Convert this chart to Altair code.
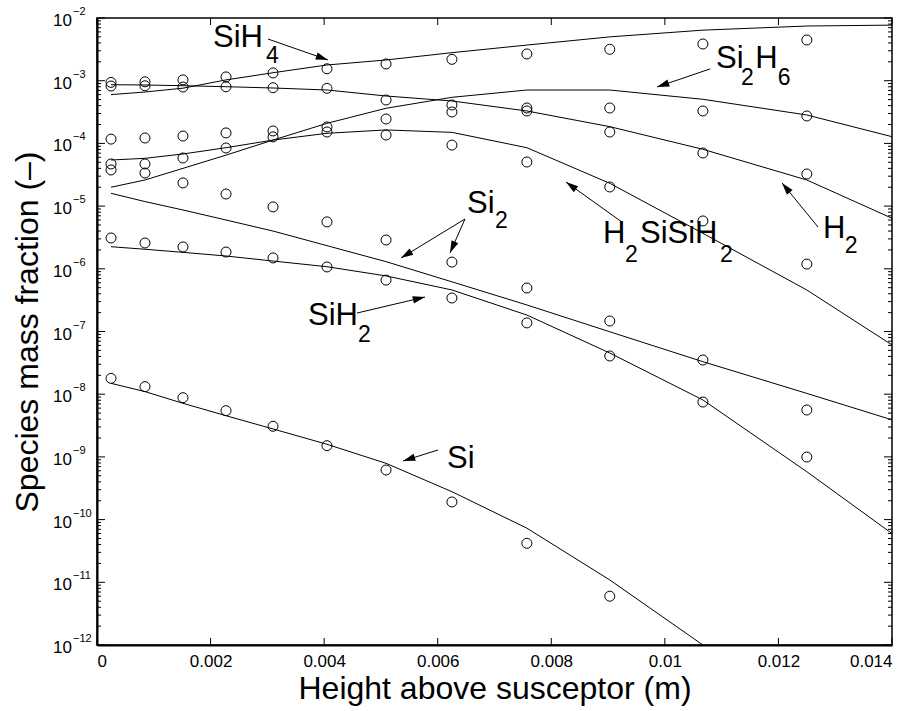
import math
import altair as alt
import pandas as pd

# ---------------- data ----------------
x_points = [0.000247, 0.000845, 0.001514, 0.002272, 0.0031, 0.00405,
            0.00509, 0.00625, 0.00757, 0.00903, 0.01067, 0.0125]
x_line = x_points + [0.014]

species = ["SiH4", "Si2H6", "H2", "H2SiSiH2", "Si2", "SiH2", "Si"]

pts_SiH4 = [9.4e-4, 9.6e-4, 1.03e-3, 1.15e-3, 1.33e-3, 1.55e-3, 1.85e-3, 2.19e-3, 2.67e-3, 3.17e-3, 3.85e-3, 4.46e-3]
pts_Si2H6 = [4.7e-5, 4.7e-5, 5.85e-5, 8.45e-5, 1.27e-4, 1.83e-4, 2.45e-4, 3.17e-4, 3.67e-4, 3.67e-4, 3.29e-4, 2.74e-4]
pts_H2 = [8.23e-4, 8.3e-4, 7.93e-4, 8.0e-4, 7.73e-4, 7.56e-4, 4.92e-4, 4.1e-4, 3.29e-4, 1.52e-4, 7.03e-5, 3.25e-5]
pts_H2SiSiH2 = [1.17e-4, 1.22e-4, 1.31e-4, 1.47e-4, 1.58e-4, 1.52e-4, 1.36e-4, 9.4e-5, 5.05e-5, 2.02e-5, 5.8e-6, 1.19e-6]
pts_Si2 = [3.77e-5, 3.37e-5, 2.34e-5, 1.56e-5, 9.7e-6, 5.6e-6, 2.88e-6, 1.28e-6, 4.94e-7, 1.47e-7, 3.51e-8, 5.6e-9]
pts_SiH2 = [3.1e-6, 2.58e-6, 2.23e-6, 1.85e-6, 1.49e-6, 1.07e-6, 6.6e-7, 3.42e-7, 1.37e-7, 4.07e-8, 7.5e-9, 9.95e-10]
pts_Si = [1.79e-8, 1.32e-8, 8.8e-9, 5.46e-9, 3.08e-9, 1.51e-9, 6.18e-10, 1.91e-10, 4.19e-11, 6.0e-12]

line_SiH4 = [6.0e-4, 6.6e-4, 7.6e-4, 1.03e-3, 1.34e-3, 1.78e-3, 2.14e-3, 2.8e-3, 3.7e-3, 5.0e-3, 6.4e-3, 7.45e-3, 7.7e-3]
line_Si2H6 = [2.0e-5, 2.61e-5, 4.0e-5, 6.5e-5, 1.13e-4, 2.09e-4, 3.63e-4, 5.43e-4, 7.1e-4, 7.1e-4, 5.05e-4, 2.84e-4, 1.28e-4]
line_H2 = [8.63e-4, 8.54e-4, 8.32e-4, 8.02e-4, 7.65e-4, 7.11e-4, 5.70e-4, 4.75e-4, 3.29e-4, 1.85e-4, 8.05e-5, 2.61e-5, 6.4e-6]
line_H2SiSiH2 = [5.43e-5, 5.78e-5, 6.78e-5, 8.54e-5, 1.13e-4, 1.45e-4, 1.64e-4, 1.50e-4, 8.54e-5, 2.31e-5, 3.68e-6, 4.59e-7, 6.1e-8]
line_Si2 = [1.60e-5, 1.18e-5, 8.67e-6, 6.0e-6, 4.0e-6, 2.34e-6, 1.30e-6, 6.2e-7, 2.65e-7, 9.9e-8, 3.3e-8, 1.03e-8, 3.9e-9]
line_SiH2 = [2.25e-6, 2.05e-6, 1.83e-6, 1.60e-6, 1.33e-6, 1.08e-6, 7.7e-7, 4.6e-7, 1.83e-7, 4.54e-8, 8.1e-9, 5.8e-10, 6.0e-11]
line_Si = [1.49e-8, 1.10e-8, 7.16e-9, 4.54e-9, 2.79e-9, 1.59e-9, 7.9e-10, 2.79e-10, 7.3e-11, 1.09e-11, 1.0e-12]

x_ticks = [0, 0.002, 0.004, 0.006, 0.008, 0.01, 0.012, 0.014]
y_major = [1e-12, 1e-11, 1e-10, 1e-9, 1e-8, 1e-7, 1e-6, 1e-5, 1e-4, 1e-3, 1e-2]
y_exp = ["\u221212", "\u221211", "\u221210", "\u22129", "\u22128", "\u22127",
         "\u22126", "\u22125", "\u22124", "\u22123", "\u22122"]
y_minor = [m * 10.0 ** k for k in range(-12, -2) for m in range(2, 10)]

# annotation pieces: text, x, y (baseline), font size
ann_text = ["SiH", "4", "Si", "2", "H", "6", "Si", "2", "SiH", "2",
            "H", "2", "SiSiH", "2", "H", "2", "Si"]
ann_x = [0.002043, 0.002976, 0.0109, 0.01134, 0.01159, 0.01199, 0.006516, 0.007009,
         0.003716, 0.004596, 0.008911, 0.009298, 0.009562, 0.01097, 0.012785, 0.01317, 0.006164]
ann_y = [3.45e-3, 1.915e-3, 1.594e-3, 8.54e-4, 1.594e-3, 8.54e-4, 7.76e-6, 4.48e-6,
         1.27e-7, 6.8e-8, 2.58e-6, 1.28e-6, 2.58e-6, 1.28e-6, 3.10e-6, 1.79e-6, 6.65e-10]
ann_size = [31, 23, 31, 23, 31, 23, 31, 23, 31, 23, 31, 23, 31, 23, 31, 23, 31]

# arrows: start (sx, sy) -> tip (tx, ty)
arr_sx = [0.003011, 0.010795, 0.00648, 0.00648, 0.004579, 0.009245, 0.012697, 0.006005]
arr_sy = [4.62e-3, 1.54e-3, 6.22e-6, 6.22e-6, 1.97e-7, 5.57e-6, 4.64e-6, 1.29e-9]
arr_tx = [0.004068, 0.009862, 0.005353, 0.006216, 0.005776, 0.008259, 0.012063, 0.005389]
arr_ty = [2.14e-3, 7.93e-4, 1.49e-6, 1.79e-6, 3.55e-7, 2.42e-5, 2.34e-5, 8.6e-10]

# ---------------- build tables ----------------
W, H = 795, 627
FONT = "Liberation Sans"

pts_map = dict(zip(species, [pts_SiH4, pts_Si2H6, pts_H2, pts_H2SiSiH2, pts_Si2, pts_SiH2, pts_Si]))
line_map = dict(zip(species, [line_SiH4, line_Si2H6, line_H2, line_H2SiSiH2, line_Si2, line_SiH2, line_Si]))

pts_rows = []
for s, vals in pts_map.items():
    for x, y in zip(x_points, vals):
        pts_rows.append({"species": s, "x": x, "y": y})
line_rows = []
for s, vals in line_map.items():
    for x, y in zip(x_line, vals):
        line_rows.append({"species": s, "x": x, "y": y})
df_pts = pd.DataFrame(pts_rows)
df_line = pd.DataFrame(line_rows)

df_ann = pd.DataFrame({"t": ann_text, "x": ann_x, "y": ann_y, "s": ann_size})


def to_px(x, y):
    return x / 0.014 * W, (-2 - math.log10(y)) / 10 * H


angles = []
for sx, sy, tx, ty in zip(arr_sx, arr_sy, arr_tx, arr_ty):
    x0, y0 = to_px(sx, sy)
    x1, y1 = to_px(tx, ty)
    angles.append(math.degrees(math.atan2(x1 - x0, -(y1 - y0))) % 360)
df_arr = pd.DataFrame({"sx": arr_sx, "sy": arr_sy, "tx": arr_tx, "ty": arr_ty, "ang": angles})

df_xt = pd.DataFrame({"t": x_ticks})
df_ymaj = pd.DataFrame({"v": y_major, "e": y_exp})
df_ymin = pd.DataFrame({"v": y_minor})

xs = alt.Scale(domain=[0, 0.014], nice=False, zero=False)
ys = alt.Scale(type="log", domain=[1e-12, 1e-2], nice=False)

x_axis = alt.Axis(values=x_ticks, labelExpr="format(datum.value, '~g')", ticks=False, grid=False,
                  domainColor="black", domainWidth=2, labelFont=FONT, labelFontSize=17,
                  labelColor="black", labelPadding=8, title="Height above susceptor (m)",
                  titleFont=FONT, titleFontSize=32, titleFontWeight="normal", titleColor="black",
                  titleY=53, titleBaseline="alphabetic")
y_axis = alt.Axis(labels=False, ticks=False, grid=False, domainColor="black", domainWidth=2,
                  title="Species mass fraction (\u2013)", titleFont=FONT, titleFontSize=32,
                  titleFontWeight="normal", titleColor="black", titleAngle=270, titleX=-60,
                  titleY=H / 2, titleBaseline="alphabetic", titleAlign="center")

lines = alt.Chart(df_line).mark_line(color="black", strokeWidth=1, clip=True).encode(
    x=alt.X("x:Q", scale=xs, axis=x_axis),
    y=alt.Y("y:Q", scale=ys, axis=y_axis),
    detail="species:N",
)
points = alt.Chart(df_pts).mark_point(shape="circle", filled=False, color="black", size=100,
                                      strokeWidth=1, opacity=1).encode(
    x=alt.X("x:Q", scale=xs), y=alt.Y("y:Q", scale=ys)
)

ann = alt.Chart(df_ann).mark_text(align="left", baseline="alphabetic", font=FONT, color="black").encode(
    x=alt.X("x:Q", scale=xs), y=alt.Y("y:Q", scale=ys), text="t:N",
    size=alt.Size("s:Q", scale=None, legend=None)
)

shafts = alt.Chart(df_arr).mark_rule(color="black", strokeWidth=1).encode(
    x=alt.X("sx:Q", scale=xs), y=alt.Y("sy:Q", scale=ys), x2="tx:Q", y2="ty:Q"
)
heads = alt.Chart(df_arr).mark_point(shape="M0,0L-0.3,1L0.3,1Z", filled=True, color="black",
                                     size=600, strokeWidth=0, opacity=1).encode(
    x=alt.X("tx:Q", scale=xs), y=alt.Y("ty:Q", scale=ys), angle=alt.Angle("ang:Q", scale=None)
)

# inward ticks
xt_bottom = alt.Chart(df_xt).mark_rule(color="black", strokeWidth=1).encode(
    x=alt.X("t:Q", scale=xs), y=alt.value(H), y2=alt.value(H - 7))
xt_top = alt.Chart(df_xt).mark_rule(color="black", strokeWidth=1).encode(
    x=alt.X("t:Q", scale=xs), y=alt.value(0), y2=alt.value(7))
yt_left = alt.Chart(df_ymaj).mark_rule(color="black", strokeWidth=1).encode(
    y=alt.Y("v:Q", scale=ys), x=alt.value(0), x2=alt.value(8))
yt_right = alt.Chart(df_ymaj).mark_rule(color="black", strokeWidth=1).encode(
    y=alt.Y("v:Q", scale=ys), x=alt.value(W), x2=alt.value(W - 8))
ym_left = alt.Chart(df_ymin).mark_rule(color="black", strokeWidth=1).encode(
    y=alt.Y("v:Q", scale=ys), x=alt.value(0), x2=alt.value(4))
ym_right = alt.Chart(df_ymin).mark_rule(color="black", strokeWidth=1).encode(
    y=alt.Y("v:Q", scale=ys), x=alt.value(W), x2=alt.value(W - 4))

ylab_base = alt.Chart(df_ymaj).mark_text(align="left", baseline="alphabetic", font=FONT,
                                         fontSize=17, color="black", dy=8).encode(
    y=alt.Y("v:Q", scale=ys), x=alt.value(-44), text=alt.value("10"))
ylab_exp = alt.Chart(df_ymaj).mark_text(align="left", baseline="alphabetic", font=FONT,
                                        fontSize=11, color="black", dy=-3).encode(
    y=alt.Y("v:Q", scale=ys), x=alt.value(-24), text="e:N")

chart = alt.layer(
    lines, points, shafts, heads, ann,
    xt_bottom, xt_top, yt_left, yt_right, ym_left, ym_right,
    ylab_base, ylab_exp,
).properties(
    width=W, height=H,
    padding={"left": 97, "top": 18, "right": 28, "bottom": 66},
    autosize=alt.AutoSizeParams(type="none"),
    background="white",
).configure_view(stroke="black", strokeWidth=1.5)

chart.save("out.html", embed_options={"renderer": "svg", "actions": False})
